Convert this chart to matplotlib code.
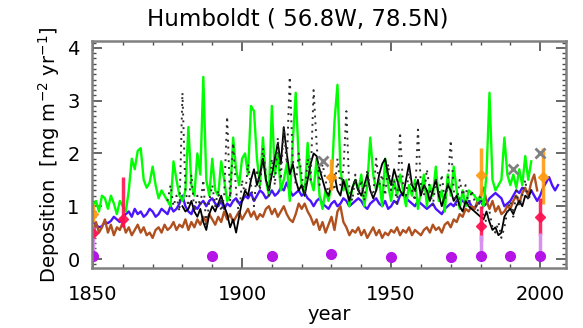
import matplotlib
matplotlib.use("Agg")
import matplotlib.pyplot as plt
import numpy as np
from matplotlib.ticker import MultipleLocator

plt.rcParams['font.family'] = ['DejaVu Sans']

# annual green series, 1850-1997
green_start = 1850
green = [1.0, 1.1, 0.9, 1.2, 1.15, 0.95, 1.2, 1.05, 0.85, 1.1,
         1.0, 0.9, 1.3, 1.9, 1.7, 2.05, 2.1, 1.5, 1.35, 1.45,
         1.75, 1.4, 1.15, 1.3, 1.2, 1.1, 1.0, 1.85, 1.5, 1.2,
         1.1, 1.3, 2.5, 1.4, 1.2, 2.0, 1.6, 3.45, 1.5, 1.2,
         1.9, 1.3, 1.2, 1.85, 1.5, 1.1, 1.2, 2.3, 1.7, 1.4,
         1.9, 2.0, 1.6, 2.9, 2.8, 1.9, 1.4, 2.3, 1.5, 1.2,
         2.9, 1.6, 2.0, 1.3, 1.5, 1.8, 1.1, 2.2, 3.15, 1.9,
         1.4, 1.2, 2.2, 1.5, 1.3, 1.9, 1.2, 0.95, 1.3, 1.1,
         1.4, 2.6, 3.3, 1.7, 1.3, 1.5, 1.0, 1.35, 1.5, 1.3,
         1.6, 1.0, 1.4, 2.3, 1.6, 1.3, 1.5, 1.0, 1.9, 1.4,
         1.1, 1.5, 1.2, 1.6, 1.3, 1.0, 1.4, 1.2, 1.5, 0.95,
         1.3, 1.6, 1.0, 1.4, 1.2, 1.75, 1.1, 1.3, 0.9, 1.6,
         1.2, 1.75, 1.3, 0.95, 1.3, 1.0, 1.3, 1.25, 1.2, 1.1,
         1.2, 1.0, 1.6, 3.15, 1.5, 1.3, 1.4, 1.5, 2.3, 1.6,
         1.4, 1.6, 1.35, 1.7, 1.4, 1.95, 1.5, 1.85]

# annual blue series, 1850-2006
blue_start = 1850
blue = [0.7, 0.65, 0.6, 0.62, 0.7, 0.68, 0.72, 0.8, 0.75, 0.7,
        0.78, 0.85, 0.9, 0.8, 0.95, 0.85, 0.9, 0.8, 0.85, 0.95,
        0.9, 0.8, 0.85, 0.95, 0.9, 0.85, 1.0, 0.9, 0.95, 1.05,
        1.2, 1.0, 0.9, 0.85, 1.0, 0.95, 1.05, 1.1, 1.0, 1.1,
        1.15, 1.05, 1.0, 1.1, 0.95, 1.05, 1.0, 1.1, 1.15, 1.05,
        1.1, 1.2, 1.15, 1.25, 1.1, 1.2, 1.3, 1.25, 1.15, 1.2,
        1.3, 1.2, 1.25, 1.35, 1.3, 1.45, 1.3, 1.2, 1.25, 1.3,
        1.2, 1.25, 1.15, 1.1, 1.0, 1.1, 1.15, 1.05, 1.0, 0.95,
        1.05, 1.1, 1.0, 1.05, 1.15, 1.1, 1.0, 1.05, 1.1, 1.15,
        1.1, 1.0, 0.95, 1.05, 1.1, 1.15, 1.05, 1.0, 1.1, 0.95,
        1.0, 1.1, 1.05, 1.2, 1.25, 1.15, 1.1, 1.05, 1.0, 1.1,
        1.05, 1.0, 0.95, 1.0, 1.05, 0.95, 0.9, 0.85, 0.95, 1.0,
        1.05, 1.0, 1.1, 1.15, 1.1, 1.05, 1.1, 1.0, 0.95, 1.05,
        1.1, 1.0, 1.05, 1.15, 1.2, 1.25, 1.2, 1.15, 1.0, 1.05,
        1.1, 1.2, 1.3, 1.25, 1.35, 1.3, 1.25, 1.3, 1.2, 1.1,
        1.2, 1.35, 1.45, 1.55, 1.4, 1.3, 1.4]

# annual brown series, 1850-1999
brown_start = 1850
brown = [0.45, 0.7, 0.5, 0.6, 0.75, 0.5, 0.65, 0.45, 0.6, 0.55,
         0.7, 0.5, 0.6, 0.45, 0.55, 0.65, 0.5, 0.6, 0.45, 0.5,
         0.4, 0.55, 0.6, 0.5, 0.65, 0.55, 0.6, 0.7, 0.55, 0.65,
         0.6, 0.75, 0.55, 0.7, 0.6, 0.75, 0.65, 0.8, 0.7, 0.85,
         0.75, 0.65, 0.8, 0.7, 0.9, 0.75, 0.85, 0.7, 0.8, 0.9,
         0.75, 0.85, 0.95, 0.8, 0.9, 0.75, 0.85, 0.8, 0.95, 1.0,
         0.85, 0.95, 0.8, 0.9, 1.0, 0.85, 0.75, 0.7, 0.85, 1.05,
         0.95, 1.05, 0.9, 0.8, 0.65, 0.75, 0.55, 0.7, 0.5, 0.65,
         0.8, 0.55, 0.9, 1.0, 0.7, 0.6, 0.45, 0.55, 0.5, 0.6,
         0.45, 0.55, 0.4, 0.5, 0.6, 0.45, 0.55, 0.4, 0.5, 0.45,
         0.55, 0.5, 0.6, 0.45, 0.55, 0.5, 0.6, 0.45, 0.55, 0.5,
         0.45, 0.55, 0.6, 0.5, 0.65, 0.55, 0.6, 0.5, 0.65, 0.7,
         0.6, 0.75, 0.7, 0.85, 0.8, 0.95, 0.9, 1.0, 0.95, 1.1,
         1.2, 1.35, 1.1, 0.95, 1.1, 0.9, 1.0, 0.85, 0.9, 1.0,
         0.95, 1.1, 1.2, 1.05, 1.25, 1.35, 1.2, 1.45, 1.6, 1.3]

# annual black dotted series, 1875-1997
dot_start = 1875
dotted = [1.1, 1.4, 1.0, 1.2, 0.9,
          3.15, 1.3, 1.0, 1.6, 0.9, 1.2, 1.0, 1.5, 0.6, 1.1,
          1.4, 1.0, 1.3, 0.9, 1.2, 2.7, 1.1, 2.2, 1.3, 0.8,
          1.5, 1.2, 1.8, 1.4, 1.0, 1.7, 1.3, 2.1, 1.6, 1.2,
          1.9, 1.4, 2.3, 1.5, 2.5, 1.8, 3.45, 1.9, 1.4, 2.0,
          1.6, 1.2, 1.9, 1.5, 3.2, 2.2, 1.4, 1.8, 1.5, 1.2,
          1.6, 1.3, 1.9, 1.4, 1.7, 2.8, 1.3, 1.1, 1.6, 1.2,
          1.5, 1.1, 1.7, 1.3, 1.2, 1.9, 1.4, 1.6, 1.2, 1.8,
          1.3, 1.5, 1.0, 2.4, 1.4, 1.2, 1.7, 1.3, 1.1, 2.45,
          1.4, 1.2, 1.7, 1.3, 1.0, 1.5, 1.2, 1.6, 1.1, 1.4,
          2.25, 1.3, 1.0, 1.5, 1.2, 1.4, 1.0, 1.3, 1.1, 0.9,
          1.2, 0.8, 0.7, 0.9, 0.6, 0.5, 0.7, 0.4, 0.6, 0.9,
          1.1, 0.8, 1.3, 1.0, 1.2, 1.5, 1.1, 1.3]

# annual black solid series, 1880-1997
solid_start = 1880
solid = [1.0, 0.9, 0.95, 1.1, 0.9, 0.8, 0.95, 0.7, 0.55, 0.85,
         1.0, 0.9, 1.05, 1.2, 1.0, 0.85, 0.6, 0.75, 0.5, 0.8,
         1.1, 1.3, 1.2, 1.5, 1.7, 1.4, 1.6, 1.9, 1.5, 1.3,
         1.6, 1.9, 2.2, 1.8, 2.5, 2.0, 1.6, 1.8, 1.5, 1.3,
         1.4, 1.2, 1.5, 1.8, 2.0, 1.95, 1.7, 1.5, 1.3, 1.2,
         1.4, 1.6, 1.3, 1.2, 1.5, 1.3, 1.1, 1.35, 1.5, 1.3,
         1.2, 1.4, 1.6, 1.3, 1.15, 1.3, 1.6, 1.8, 1.9, 1.6,
         1.4, 1.7, 1.5, 1.3, 1.2, 1.5, 1.8, 1.4, 1.3, 1.5,
         1.2, 1.4, 1.3, 1.1, 1.3, 1.5, 1.2, 1.0, 1.2, 1.4,
         1.3, 1.1, 1.2, 1.0, 0.9, 1.1, 1.0, 0.95, 0.9, 0.85,
         0.8, 0.75, 0.9, 0.7, 0.55, 0.6, 0.45, 0.5, 0.8, 0.9,
         0.95, 0.85, 1.0, 1.1, 1.0, 1.2, 1.15, 1.3]

# point measurements with ranges
orange_years = [1850, 1930, 1980, 2001]
orange_vals = [0.85, 1.55, 1.6, 1.55]
orange_lo = [0.7, 1.3, 1.2, 1.05]
orange_hi = [1.05, 1.9, 2.1, 2.1]

red_years = [1850, 1860, 1980, 2000]
red_vals = [0.5, 0.75, 0.62, 0.8]
red_lo = [0.4, 0.6, 0.35, 0.45]
red_hi = [0.6, 1.55, 1.0, 1.15]

purple_years = [1850, 1890, 1910, 1930, 1950, 1970, 1980, 1990, 2000]
purple_vals = [0.05, 0.05, 0.05, 0.1, 0.03, 0.03, 0.05, 0.05, 0.05]
purple_hi = [0.6, 0.05, 0.05, 0.1, 0.03, 0.03, 0.45, 0.05, 0.5]

grey_years = [1927, 1991, 2000]
grey_vals = [1.85, 1.7, 2.0]


def yrs(start, vals):
    return np.arange(start, start + len(vals))


fig = plt.figure(figsize=(5.83, 3.28), dpi=100)
ax = fig.add_axes([0.158, 0.183, 0.813, 0.692])

ax.plot(yrs(blue_start, blue), blue, color='#4a14ff', lw=1.7)
ax.plot(yrs(brown_start, brown), brown, color='#b0501e', lw=1.7)
ax.plot(yrs(green_start, green), green, color='#00ff00', lw=1.7)
ax.plot(yrs(solid_start, solid), solid, color='black', lw=1.3)
ax.plot(yrs(dot_start, dotted), dotted, color='#303030', lw=1.4, ls=(0, (1, 2.5)))

ax.errorbar(orange_years, orange_vals,
            yerr=[np.subtract(orange_vals, orange_lo), np.subtract(orange_hi, orange_vals)],
            fmt='D', color='#ff9a10', ms=5, elinewidth=2.5, capsize=0, alpha=0.9)
ax.errorbar(red_years, red_vals,
            yerr=[np.subtract(red_vals, red_lo), np.subtract(red_hi, red_vals)],
            fmt='D', color='#ff1050', ms=5, elinewidth=2.5, capsize=0, alpha=0.9)
ax.errorbar(purple_years, purple_vals,
            yerr=[np.zeros(len(purple_vals)), np.subtract(purple_hi, purple_vals)],
            fmt='o', color='#b414e6', ms=7, elinewidth=2.5, capsize=0, ecolor='#d890f0')
ax.plot(grey_years, grey_vals, 'x', color='#808080', ms=7, mew=2)

ax.set_xlim(1849.7, 2008.7)
ax.set_ylim(-0.17, 4.13)
ax.xaxis.set_major_locator(MultipleLocator(50))
ax.xaxis.set_minor_locator(MultipleLocator(10))
ax.yaxis.set_major_locator(MultipleLocator(1))
ax.yaxis.set_minor_locator(MultipleLocator(0.1))
ax.tick_params(which='both', direction='in', top=True, right=True, colors='0.3',
               labelcolor='black', labelsize=14)
ax.tick_params(which='major', length=7, width=1.2)
ax.tick_params(which='minor', length=3, width=1)
ax.tick_params(axis='x', which='major', pad=12)
ax.tick_params(axis='y', which='major', pad=9)
for s in ax.spines.values():
    s.set_color('0.5')
    s.set_linewidth(1.8)

ax.set_xlabel('year', fontsize=14, labelpad=1)
ax.set_ylabel('Deposition  [mg m$^{-2}$ yr$^{-1}$]', fontsize=14, labelpad=4)
fig.text(0.51, 0.94, 'Humboldt ( 56.8W, 78.5N)', ha='center', va='center', fontsize=16.5)

fig.savefig('out.png', dpi=100)
